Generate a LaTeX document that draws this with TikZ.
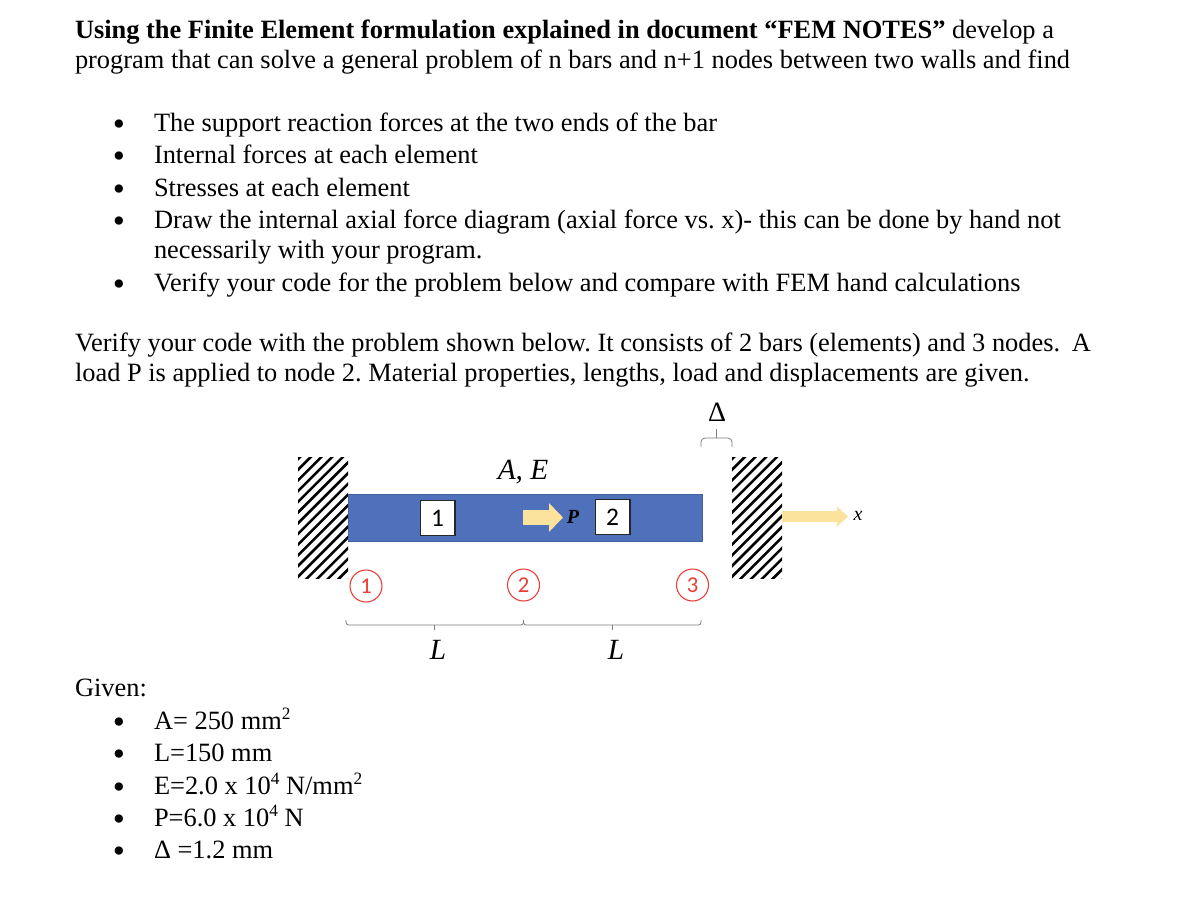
\documentclass[tikz,border=0pt]{standalone}
\usepackage{fontspec}
\setmainfont{Liberation Serif}
\newfontfamily\carlito{Carlito}
\usetikzlibrary{arrows.meta,calc}
\definecolor{barblue}{HTML}{4F71BB}
\definecolor{bardark}{HTML}{41619F}
\definecolor{loadyellow}{HTML}{FBE29D}
\definecolor{noder}{HTML}{EE3B33}
\definecolor{bracegray}{HTML}{7F7F7F}
\newcommand{\supr}[1]{\raisebox{0.36em}{\fontsize{13pt}{12pt}\selectfont #1}}
\tikzset{
  x=0.75pt,y=-0.75pt,
  txt/.style={anchor=base west,inner sep=0pt,outer sep=0pt,font=\fontsize{19.8pt}{23pt}\selectfont},
  bul/.style={anchor=base,inner sep=0pt,outer sep=0pt,font=\fontsize{26pt}{26pt}\selectfont},
  elembox/.style={draw=black!85,line width=1pt,fill=white,inner sep=0pt,minimum width=26pt,minimum height=26.5pt,font=\carlito\fontsize{19pt}{19pt}\selectfont},
  nodecirc/.style={circle,draw=noder,line width=0.8pt,fill=white,text=noder,inner sep=0pt,minimum size=24pt,font=\carlito\fontsize{17pt}{17pt}\selectfont},
  mathlab/.style={inner sep=0pt,font=\fontsize{22pt}{22pt}\selectfont\itshape},
  dimline/.style={draw=bracegray,line width=0.6pt,rounded corners=2pt},
  hatchline/.style={line width=1.9pt,black}
}
\newcommand{\hatchwall}[2]{%
  \begin{scope}
    \clip (#1,457) rectangle (#1+50,578);
    \foreach \k in {0,...,17}{
      \draw[hatchline] (#1-4,{463+10.7*\k}) -- (#1+54,{463+10.7*\k-58});
    }
  \end{scope}
  \node[inner sep=0pt,minimum width=37.5pt,minimum height=90.75pt] (#2) at (#1+25,517.5) {};
}
\begin{document}
\begin{tikzpicture}
\frenchspacing
\useasboundingbox (0,0) rectangle (1180,900);
\fill[white] (0,0) rectangle (1180,900);

\node[txt] (t1) at (75,38) {\textbf{Using the Finite Element formulation explained in document “FEM NOTES”} develop a};
\node[txt] (t2) at (75,68) {program that can solve a general problem of n bars and n+1 nodes between two walls and find};

\node[bul] (b1) at (119,135) {•};
\node[bul] (b2) at (119,167) {•};
\node[bul] (b3) at (119,200) {•};
\node[bul] (b4) at (119,232) {•};
\node[bul] (b5) at (119,295) {•};
\node[txt] (l1) at (154,131) {The support reaction forces at the two ends of the bar};
\node[txt] (l2) at (154,163) {Internal forces at each element};
\node[txt] (l3) at (154,196) {Stresses at each element};
\node[txt] (l4) at (154,228) {Draw the internal axial force diagram (axial force vs. x)- this can be done by hand not};
\node[txt] (l4b) at (154,258) {necessarily with your program.};
\node[txt] (l5) at (154,291) {Verify your code for the problem below and compare with FEM hand calculations};

\node[txt] (v1) at (75,351) {Verify your code with the problem shown below. It consists of 2 bars (elements) and 3 nodes.\hspace{3.75pt} A};
\node[txt] (v2) at (75,381) {load P is applied to node 2. Material properties, lengths, load and displacements are given.};

\node[txt] (g0) at (75,696) {Given:};
\node[bul] (c1) at (119,733) {•};
\node[bul] (c2) at (119,765) {•};
\node[bul] (c3) at (119,798) {•};
\node[bul] (c4) at (119,830) {•};
\node[bul] (c5) at (119,862) {•};
\node[txt] (g1) at (154,729) {A= 250 mm\supr{2}};
\node[txt] (g2) at (154,761) {L=150 mm};
\node[txt] (g3) at (154,794) {E=2.0 x 10\supr{4} N/mm\supr{2}};
\node[txt] (g4) at (154,826) {P=6.0 x 10\supr{4} N};
\node[txt] (g5) at (154,858) {Δ =1.2 mm};

% walls
\hatchwall{298}{wallL}
\hatchwall{732}{wallR}

% bar
\node[fill=barblue,draw=bardark,line width=0.5pt,inner sep=0pt,minimum width=265.5pt,minimum height=35pt] (bar) at (525,517.5) {};

\node[elembox] (e1) at (437.5,518) {1};
\node[elembox] (e2) at (612.5,517) {2};

\node[inner sep=0pt,font=\fontsize{15pt}{15pt}\selectfont\bfseries\itshape] (P) at (573,517) {P};
\coordinate (loadS) at (523,517.5);
\coordinate (loadE) at (563,517.5);
\draw[loadyellow,line width=11.25pt,-{Triangle[width=21pt,length=10.5pt]}] (loadS) -- (loadE);

\node[inner sep=0pt,font=\fontsize{15pt}{15pt}\selectfont\itshape] (xlab) at (858,516) {x};
\coordinate (xE) at (848,516.5);
\draw[loadyellow,line width=8.25pt,-{Triangle[width=14.5pt,length=8.25pt]}] (wallR.east |- xE) -- (xE);

\node[mathlab] (AE) at (523,472) {A, E};

\node[nodecirc] (n1) at (366,586) {1};
\node[nodecirc] (n2) at (523.5,585) {2};
\node[nodecirc] (n3) at (692.5,585) {3};

% dimensions
\coordinate (d1) at (346,620);
\coordinate (d2) at (523.5,620);
\coordinate (d3) at (701,620);
\draw[dimline] (d1) -- ($(d1)+(0,5)$) -- ($(d2)+(0,5)$) -- (d2);
\draw[dimline] (d2) -- ($(d2)+(0,5)$) -- ($(d3)+(0,5)$) -- (d3);
\draw[bracegray,line width=0.6pt] ($(d1)!0.5!(d2)+(0,5)$) -- ($(d1)!0.5!(d2)+(0,10)$);
\draw[bracegray,line width=0.6pt] ($(d2)!0.5!(d3)+(0,5)$) -- ($(d2)!0.5!(d3)+(0,10)$);
\node[mathlab] (L1) at (438,650) {L};
\node[mathlab] (L2) at (616,650) {L};

\coordinate (dl) at (701,447);
\coordinate (dr) at (732,447);
\draw[dimline,rounded corners=3pt] (dl) -- ($(dl)+(0,-9)$) -- ($(dr)+(0,-9)$) -- (dr);
\draw[bracegray,line width=0.6pt] ($(dl)!0.5!(dr)+(0,-9)$) -- ($(dl)!0.5!(dr)+(0,-18)$);
\node[inner sep=0pt,font=\fontsize{21pt}{21pt}\selectfont] (Dlt) at (717,412) {Δ};
\end{tikzpicture}
\end{document}
